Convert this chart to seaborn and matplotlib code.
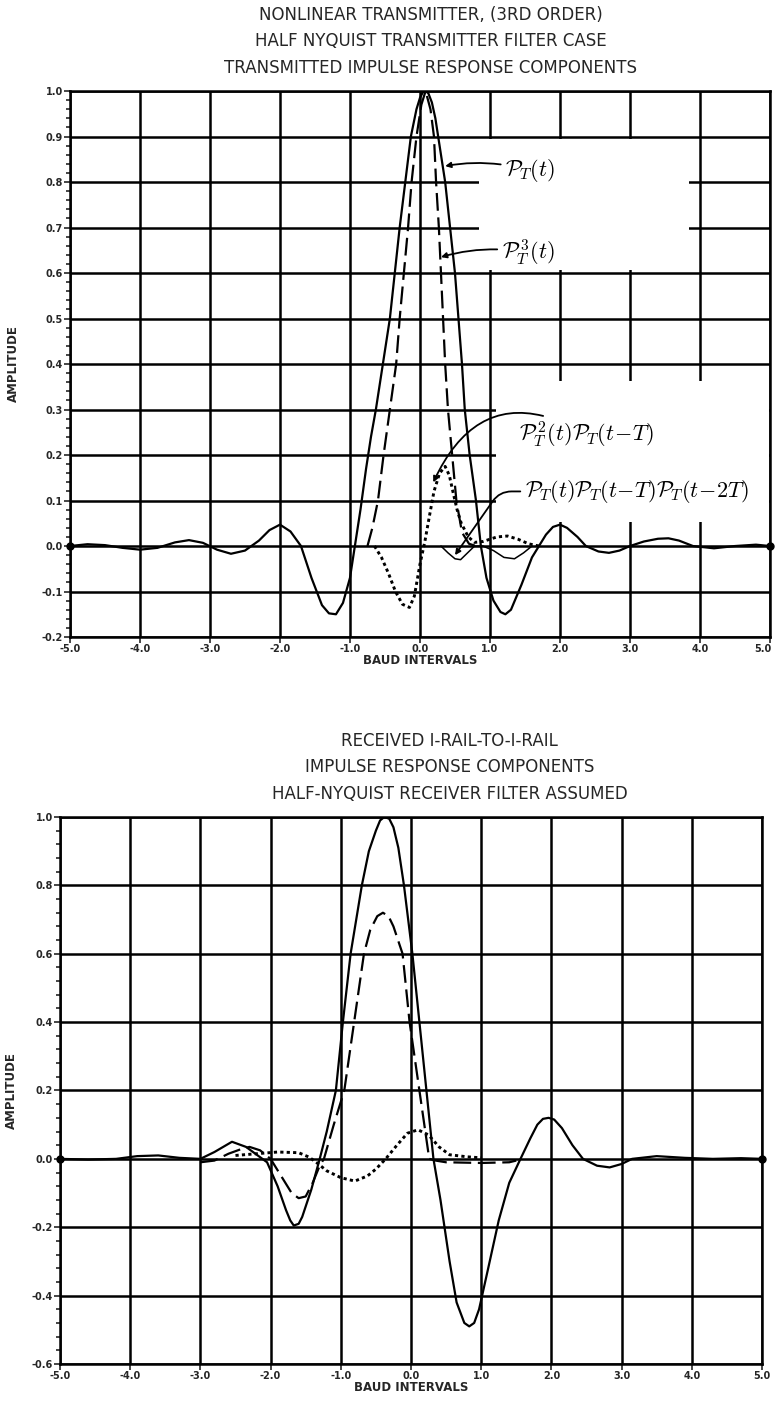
import numpy as np
import pandas as pd
import matplotlib
matplotlib.use("Agg")
import matplotlib.pyplot as plt
from matplotlib.patches import Rectangle
from matplotlib.ticker import MultipleLocator
from matplotlib.transforms import ScaledTranslation
import seaborn as sns

# ---- top panel: transmitted impulse response components ----
TOP_TITLE = ["NONLINEAR TRANSMITTER, (3RD ORDER)",
             "HALF NYQUIST TRANSMITTER FILTER CASE",
             "TRANSMITTED IMPULSE RESPONSE COMPONENTS"]

# P_T(t)
TOP_PT_X = [-5.0, -4.75, -4.5, -4.25, -4.0, -3.75, -3.5, -3.3, -3.1, -2.9, -2.7, -2.5, -2.3, -2.15,
            -2.0, -1.85, -1.7, -1.55, -1.4, -1.3, -1.2, -1.1, -1.0, -0.93, -0.85, -0.77, -0.7, -0.63,
            -0.53, -0.43, -0.36, -0.29, -0.21, -0.13, -0.05, 0.0, 0.04, 0.08, 0.12, 0.17, 0.22, 0.26,
            0.36, 0.43, 0.5, 0.55, 0.6, 0.64, 0.71, 0.8, 0.87, 0.95, 1.05, 1.15, 1.22, 1.3, 1.45, 1.6,
            1.7, 1.8, 1.9, 2.0, 2.1, 2.25, 2.37, 2.55, 2.7, 2.85, 3.0, 3.2, 3.4, 3.55, 3.7, 3.9, 4.2,
            4.5, 4.8, 5.0]
TOP_PT_Y = [0.0, 0.004, 0.002, -0.004, -0.008, -0.004, 0.008, 0.013, 0.007, -0.008, -0.017, -0.01, 0.012, 0.035,
            0.047, 0.032, 0.0, -0.07, -0.13, -0.148, -0.15, -0.125, -0.07, 0.0, 0.08, 0.17, 0.24, 0.3,
            0.4, 0.5, 0.6, 0.7, 0.8, 0.9, 0.96, 0.985, 0.997, 1.0, 0.995, 0.975, 0.94, 0.9,
            0.8, 0.7, 0.6, 0.5, 0.4, 0.3, 0.2, 0.1, 0.0, -0.07, -0.12, -0.145, -0.15, -0.14, -0.085, -0.025,
            0.0, 0.025, 0.042, 0.047, 0.04, 0.02, 0.0, -0.012, -0.015, -0.01, 0.0, 0.01, 0.016, 0.017, 0.012, 0.0, -0.005,
            0.0, 0.003, 0.0]

# P_T^3(t)
TOP_PT3_X = [-0.75, -0.68, -0.6, -0.52, -0.43, -0.34, -0.29, -0.23, -0.17, -0.12, -0.05, 0.02, 0.08,
             0.15, 0.2, 0.23, 0.27, 0.3, 0.33, 0.36, 0.4, 0.46, 0.52, 0.6, 0.7, 0.8]
TOP_PT3_Y = [0.0, 0.04, 0.1, 0.2, 0.3, 0.4, 0.5, 0.6, 0.7, 0.8, 0.9, 0.97, 1.0,
             0.96, 0.9, 0.8, 0.7, 0.6, 0.5, 0.4, 0.3, 0.2, 0.1, 0.03, 0.005, 0.0]

# P_T^2(t) P_T(t-T)
TOP_P2P_X = [-0.65, -0.55, -0.45, -0.35, -0.25, -0.15, -0.08, 0.0, 0.07, 0.14, 0.2, 0.28, 0.36, 0.42,
             0.47, 0.53, 0.59, 0.69, 0.78, 0.9, 1.0, 1.1, 1.25, 1.4, 1.55, 1.7]
TOP_P2P_Y = [0.0, -0.025, -0.06, -0.1, -0.128, -0.135, -0.11, -0.04, 0.01, 0.07, 0.12, 0.16, 0.175, 0.155,
             0.12, 0.08, 0.05, 0.02, 0.008, 0.01, 0.015, 0.02, 0.022, 0.015, 0.005, 0.0]

# P_T(t) P_T(t-T) P_T(t-2T)
TOP_PPP_X = [0.3, 0.4, 0.5, 0.58, 0.68, 0.78, 0.9, 1.05, 1.2, 1.35, 1.48, 1.6]
TOP_PPP_Y = [0.0, -0.015, -0.028, -0.03, -0.015, 0.0, 0.0, -0.01, -0.025, -0.028, -0.015, 0.0]

# ---- bottom panel: received I-rail-to-I-rail ----
BOT_TITLE = ["RECEIVED I-RAIL-TO-I-RAIL",
             "IMPULSE RESPONSE COMPONENTS",
             "HALF-NYQUIST RECEIVER FILTER ASSUMED"]

BOT_SOLID_X = [-5.0, -4.6, -4.2, -3.9, -3.6, -3.3, -3.0, -2.8, -2.55, -2.35, -2.15, -2.05, -1.9, -1.78,
               -1.72, -1.67, -1.6, -1.55, -1.42, -1.3, -1.2, -1.07, -0.97, -0.86, -0.7, -0.6, -0.5, -0.44,
               -0.38, -0.31, -0.25, -0.18, -0.1, 0.02, 0.12, 0.22, 0.32, 0.42, 0.55, 0.65, 0.76, 0.83,
               0.9, 0.97, 1.1, 1.25, 1.4, 1.56, 1.7, 1.8, 1.88, 1.96, 2.04, 2.15, 2.3, 2.45, 2.65, 2.83,
               3.0, 3.15, 3.5, 3.9, 4.3, 4.7, 5.0]
BOT_SOLID_Y = [0.0, -0.002, 0.0, 0.008, 0.01, 0.003, 0.0, 0.02, 0.05, 0.035, 0.005, -0.01, -0.08, -0.15,
               -0.18, -0.195, -0.19, -0.17, -0.09, 0.0, 0.08, 0.2, 0.4, 0.6, 0.8, 0.9, 0.96, 0.99,
               1.0, 0.995, 0.97, 0.91, 0.8, 0.6, 0.4, 0.2, 0.0, -0.12, -0.3, -0.42, -0.48, -0.49,
               -0.48, -0.44, -0.32, -0.18, -0.07, 0.0, 0.06, 0.1, 0.117, 0.12, 0.115, 0.09, 0.04, 0.0, -0.02, -0.025,
               -0.015, 0.0, 0.008, 0.003, 0.0, 0.002, 0.0]

BOT_DASH_X = [-3.0, -2.8, -2.6, -2.4, -2.3, -2.15, -2.0, -1.85, -1.7, -1.6, -1.5, -1.4, -1.3, -1.24,
              -1.1, -0.95, -0.81, -0.67, -0.58, -0.48, -0.4, -0.32, -0.25, -0.12, -0.02, 0.12, 0.26,
              0.35, 0.5, 1.0, 1.4, 1.5]
BOT_DASH_Y = [-0.01, -0.005, 0.015, 0.03, 0.035, 0.025, 0.0, -0.05, -0.1, -0.115, -0.11, -0.07, -0.02, 0.0,
              0.1, 0.2, 0.4, 0.6, 0.67, 0.71, 0.72, 0.71, 0.68, 0.6, 0.4, 0.2, 0.0,
              -0.005, -0.01, -0.012, -0.01, -0.005]

BOT_DOT_X = [-2.5, -2.2, -1.9, -1.6, -1.45, -1.35, -1.2, -1.0, -0.8, -0.62, -0.5, -0.36, -0.2, -0.05,
             0.1, 0.25, 0.4, 0.55, 0.8, 1.0]
BOT_DOT_Y = [0.01, 0.015, 0.02, 0.018, 0.005, -0.01, -0.035, -0.055, -0.065, -0.05, -0.03, 0.0, 0.04, 0.075,
             0.085, 0.07, 0.035, 0.012, 0.006, 0.003]

TOP_YTICKS = np.round(np.arange(-0.2, 1.01, 0.1), 1)
BOT_YTICKS = np.round(np.arange(-0.6, 1.01, 0.2), 1)
XTICKS = np.arange(-5, 6, 1)

sns.set_style("white")
plt.rcParams["font.family"] = ["DejaVu Sans"]
plt.rcParams["mathtext.fontset"] = "cm"

GRID_LW = 1.8
CURVE_LW = 1.6


def setup_axes(ax, yticks, ylim, minor, ylabelpad):
    ax.set_xlim(-5, 5)
    ax.set_ylim(*ylim)
    ax.set_xticks(XTICKS)
    ax.set_xticklabels([f"{v:.1f}" for v in XTICKS], fontsize=7, fontweight="bold")
    ax.set_yticks(yticks)
    ax.set_yticklabels([f"{v:.1f}" for v in yticks], fontsize=7, fontweight="bold")
    ax.yaxis.set_minor_locator(MultipleLocator(minor))
    ax.tick_params(axis="y", which="minor", length=3, width=1.2, direction="out", left=True)
    ax.tick_params(axis="both", which="major", length=4, width=1.2, direction="out",
                   left=True, bottom=True, pad=1)
    ax.set_axisbelow(True)
    ax.grid(True, which="major", color="black", lw=GRID_LW)
    for s in ax.spines.values():
        s.set_color("black")
        s.set_linewidth(GRID_LW)
    ax.set_xlabel("BAUD INTERVALS", fontsize=8.5, fontweight="bold", labelpad=0)
    ax.set_ylabel("AMPLITUDE", fontsize=8.5, fontweight="bold", labelpad=ylabelpad)


def draw_curve(ax, xs, ys, **kw):
    df = pd.DataFrame({"t": xs, "amp": ys})
    sns.lineplot(data=df, x="t", y="amp", ax=ax, color="black", sort=False,
                 estimator=None, zorder=3, **kw)


fig = plt.figure(figsize=(7.75, 14.05), dpi=100)

# ---------------- top ----------------
ax1 = fig.add_axes([0.0903, 0.5466, 0.9032, 0.3886])
setup_axes(ax1, TOP_YTICKS, (-0.2, 1.0), 0.02, 16)
# keep the last x label inside the page
last = ax1.get_xticklabels()[-1]
last.set_transform(last.get_transform() + ScaledTranslation(-5 / 72, 0, fig.dpi_scale_trans))
# blank areas where the hand labels were written
ax1.add_patch(Rectangle((0.85, 0.606), 3.0, 0.288, facecolor="white", edgecolor="none", zorder=1))
ax1.add_patch(Rectangle((1.08, 0.052), 3.9, 0.31, facecolor="white", edgecolor="none", zorder=1))

draw_curve(ax1, TOP_PT_X, TOP_PT_Y, lw=CURVE_LW)
draw_curve(ax1, TOP_PT3_X, TOP_PT3_Y, lw=CURVE_LW, dashes=(8, 3))
draw_curve(ax1, TOP_P2P_X, TOP_P2P_Y, lw=CURVE_LW + 0.5, dashes=(1.1, 1.1))
draw_curve(ax1, TOP_PPP_X, TOP_PPP_Y, lw=1.1)
ax1.plot([-5, 5], [0, 0], "o", color="black", ms=5, clip_on=False, zorder=4)

lab = dict(fontsize=16, color="black", va="center", ha="left", zorder=5)
arr = dict(arrowstyle="-|>", color="black", lw=1.3, mutation_scale=8, shrinkA=1, shrinkB=0)
ax1.annotate(r"$\mathcal{P}_{\!T}(t)$", xy=(0.36, 0.835), xytext=(1.22, 0.825),
             arrowprops=dict(arr, connectionstyle="arc3,rad=0.12"), **lab)
ax1.annotate(r"$\mathcal{P}_{\!T}^{\,3}(t)$", xy=(0.3, 0.635), xytext=(1.17, 0.645),
             arrowprops=dict(arr, connectionstyle="arc3,rad=0.12"), **lab)
ax1.annotate(r"$\mathcal{P}_{\!T}^{\,2}(t)\mathcal{P}_{\!T}(t\!-\!T)$", xy=(0.19, 0.14), xytext=(1.42, 0.245),
             arrowprops=dict(arr, connectionstyle="arc3,rad=0.55"), **lab)
ax1.annotate(r"$\mathcal{P}_{\!T}(t)\mathcal{P}_{\!T}(t\!-\!T)\mathcal{P}_{\!T}(t\!-\!2T)$",
             xy=(0.5, -0.02), xytext=(1.5, 0.12),
             arrowprops=dict(arr, connectionstyle="angle,angleA=0,angleB=55,rad=12"), **lab)

for i, line in enumerate(TOP_TITLE):
    fig.text(0.556, 0.9893 - i * 0.0188, line, ha="center", va="center", fontsize=12)

# ---------------- bottom ----------------
ax2 = fig.add_axes([0.0774, 0.0292, 0.9058, 0.3893])
setup_axes(ax2, BOT_YTICKS, (-0.6, 1.0), 0.04, 10)
draw_curve(ax2, BOT_SOLID_X, BOT_SOLID_Y, lw=CURVE_LW)
draw_curve(ax2, BOT_DASH_X, BOT_DASH_Y, lw=CURVE_LW, dashes=(8, 3))
draw_curve(ax2, BOT_DOT_X, BOT_DOT_Y, lw=CURVE_LW + 0.5, dashes=(1.1, 1.1))
ax2.plot([-5, 5], [0, 0], "o", color="black", ms=5, clip_on=False, zorder=4)

for i, line in enumerate(BOT_TITLE):
    fig.text(0.58, 0.4726 - i * 0.0188, line, ha="center", va="center", fontsize=12)

fig.savefig("out.png", dpi=100)
